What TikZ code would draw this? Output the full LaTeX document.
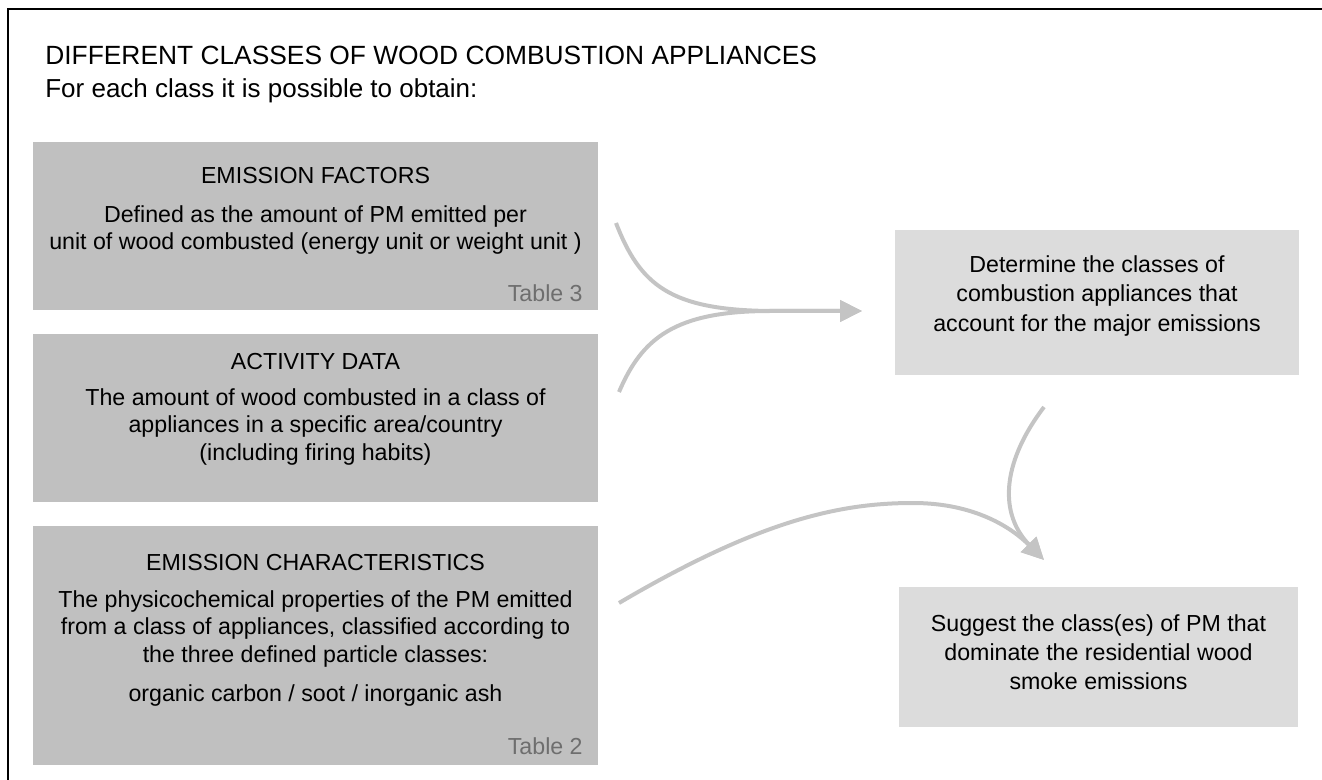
\documentclass[tikz,border=0pt]{standalone}
\usepackage{fontspec}
\setmainfont{Liberation Sans}
\usetikzlibrary{arrows.meta}

\definecolor{inputgray}{RGB}{192,192,192}
\definecolor{resultgray}{RGB}{220,220,220}
\definecolor{flowgray}{RGB}{196,196,196}
\definecolor{tablegray}{RGB}{110,110,110}

\begin{document}
\begin{tikzpicture}[
    x=0.02cm,
    y=-0.02cm,
    inner sep=0pt,
    inputbox/.style={
        fill=inputgray,
        minimum width=11.3cm
    },
    resultbox/.style={
        fill=resultgray
    },
    heading/.style={
        font=\fontsize{13.2}{15}\selectfont
    },
    body/.style={
        align=center,
        font=\fontsize{13.2}{15.5}\selectfont
    },
    resulttext/.style={
        align=center,
        font=\fontsize{13.2}{16.6}\selectfont
    },
    tableref/.style={
        anchor=east,
        text=tablegray,
        font=\fontsize{13.2}{15}\selectfont
    },
    flow/.style={
        draw=flowgray,
        line width=0.08cm,
        -{Triangle[length=0.44cm,width=0.42cm]}
    }]

\useasboundingbox (0,0) rectangle (1322,780);

% Rahmen
\draw[line width=1pt] (8,780) -- (8,9) -- (1322,9);

% Titel
\node[anchor=base west, font=\fontsize{15}{18}\selectfont] (title) at (45,65)
{DIFFERENT CLASSES OF WOOD COMBUSTION APPLIANCES};

\node[anchor=base west, font=\fontsize{14.8}{17}\selectfont] (subtitle) at (45,98)
{For each class it is possible to obtain:};


% Linke Kaesten
\node[inputbox, minimum height=3.36cm] (factors) at (315.5,226) {};
\node[heading] (factorshead) at (315.5,176) {EMISSION FACTORS};
\node[body] (factorsbody) at (315.5,230)
{Defined as the amount of PM emitted per\\
unit of wood combusted (energy unit or weight unit )};
\node[tableref] (factorstable) at (583,293) {Table 3};

\node[inputbox, minimum height=3.36cm] (activity) at (315.5,418) {};
\node[heading] (activityhead) at (315.5,362) {ACTIVITY DATA};
\node[body] (activitybody) at (315.5,427)
{The amount of wood combusted in a class of\\
appliances in a specific area/country\\
(including firing habits)};

\node[inputbox, minimum height=4.78cm] (character) at (315.5,645.5) {};
\node[heading] (characterhead) at (315.5,563) {EMISSION CHARACTERISTICS};
\node[body] (characterbody) at (315.5,629)
{The physicochemical properties of the PM emitted\\
from a class of appliances, classified according to\\
the three defined particle classes:};
\node[body] (characterclasses) at (315.5,696)
{organic carbon / soot / inorganic ash};
\node[tableref] (charactertable) at (583,746) {Table 2};


% Rechte Kaesten
\node[resultbox, minimum width=8.08cm, minimum height=2.9cm] (determine) at (1097,302.5) {};
\node[resulttext] (determinetext) at (1097,296)
{Determine the classes of\\
combustion appliances that\\
account for the major emissions};

\node[resultbox, minimum width=7.98cm, minimum height=2.8cm] (suggest) at (1098.5,657) {};
\node[resulttext] (suggesttext) at (1098.5,652)
{Suggest the class(es) of PM that\\
dominate the residential wood\\
smoke emissions};


% Pfeile
\coordinate (factorsout) at (616,223);
\coordinate (activityout) at (619,392);
\coordinate (joint) at (770,311);
\coordinate (determinein) at (862,311);
\coordinate (determineout) at (1044,407);
\coordinate (characterout) at (619,603);
\coordinate (crest) at (913,503);
\coordinate (suggestin) at (1044,560);

\draw[flow] (factorsout) .. controls (640,285) and (670,310) .. (joint) -- (determinein);
\draw[flow] (activityout) .. controls (642,338) and (675,311) .. (joint) -- (determinein);
\draw[flow] (determineout) .. controls (1000,465) and (1000,515) .. (suggestin);
\draw[flow] (characterout) .. controls (760,520) and (840,503) .. (crest)
    .. controls (975,503) and (1012,528) .. (suggestin);

\end{tikzpicture}
\end{document}
